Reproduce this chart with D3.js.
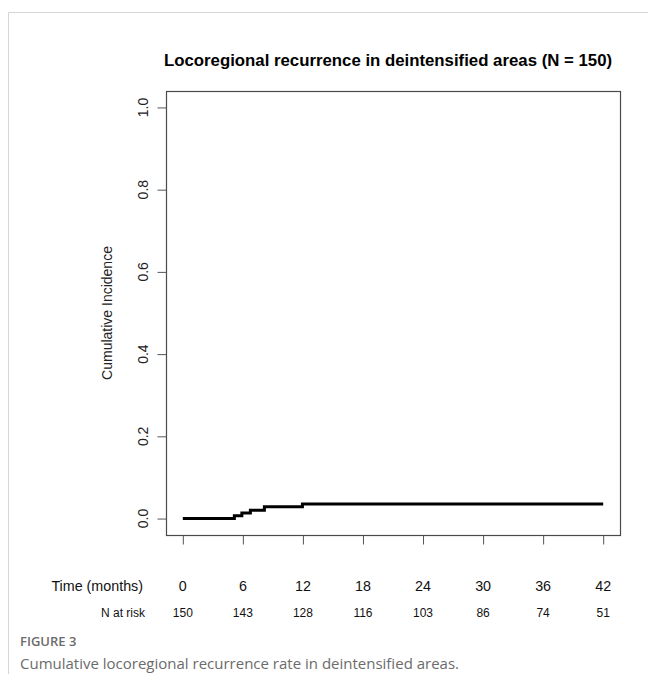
<!DOCTYPE html>
<html><head><meta charset="utf-8">
<script src="https://cdn.jsdelivr.net/npm/d3@7"></script>
<style>
body{margin:0;background:#fff}
text{font-family:"Liberation Sans",Arial,sans-serif}
</style>
</head><body>
<svg id="fig" width="648" height="674"></svg>
<script>
// Cumulative incidence of locoregional recurrence (step function)
const stepTimes = [0, 5.15, 5.9, 6.75, 8.15, 11.95, 42];
const cumInc    = [0, 0.0067, 0.0133, 0.0200, 0.029, 0.0355, 0.0355];
// Axis ticks and risk table
const timeTicks = [0, 6, 12, 18, 24, 30, 36, 42];
const nAtRisk   = [150, 143, 128, 116, 103, 86, 74, 51];
const yTicks    = [0, 0.2, 0.4, 0.6, 0.8, 1.0];

const titleText = "Locoregional recurrence in deintensified areas (N = 150)";
const yLabel = "Cumulative Incidence";
const figLabel = "FIGURE 3";
const captionText = "Cumulative locoregional recurrence rate in deintensified areas.";

const svg = d3.select("#fig");

// page frame
svg.append("path")
  .attr("d", "M8.5,674 V12.5 H648")
  .attr("fill", "none").attr("stroke", "#d6d6d6").attr("stroke-width", 1);

const box = {left: 166, right: 620, top: 91, bottom: 535};
// R-style 4% padding of the data range
const xPad = 0.04 * 42, yPad = 0.04 * 1;
const x = d3.scaleLinear().domain([-xPad, 42 + xPad]).range([box.left, box.right]);
const y = d3.scaleLinear().domain([-yPad, 1 + yPad]).range([box.bottom, box.top]);

// plot box
svg.append("rect")
  .attr("x", box.left + 0.5).attr("y", box.top + 0.5)
  .attr("width", box.right - box.left).attr("height", box.bottom - box.top)
  .attr("fill", "none").attr("stroke", "#4a4a4a").attr("stroke-width", 1.2);

// title
svg.append("text")
  .attr("x", 388).attr("y", 66)
  .attr("text-anchor", "middle")
  .style("font-weight", "bold").style("font-size", "16.8px").attr("fill", "#000")
  .text(titleText);

// y axis
const yAxis = svg.append("g")
  .attr("transform", `translate(${box.left + 0.5},0)`)
  .call(d3.axisLeft(y).tickValues(yTicks).tickSize(9).tickFormat(""));
yAxis.select(".domain").remove();
yAxis.selectAll("line").attr("stroke", "#555");

svg.append("g").selectAll("text").data(yTicks).join("text")
  .attr("transform", d => `translate(143,${y(d)}) rotate(-90)`)
  .attr("text-anchor", "middle").attr("dominant-baseline", "central")
  .style("font-size", "14px").attr("fill", "#222")
  .text(d => d.toFixed(1));

svg.append("text")
  .attr("transform", `translate(107,${(box.top + box.bottom) / 2}) rotate(-90)`)
  .attr("text-anchor", "middle").attr("dominant-baseline", "central")
  .style("font-size", "14px").attr("fill", "#222")
  .text(yLabel);

// x axis ticks
const xAxis = svg.append("g")
  .attr("transform", `translate(0,${box.bottom + 0.5})`)
  .call(d3.axisBottom(x).tickValues(timeTicks).tickSize(9).tickFormat(""));
xAxis.select(".domain").remove();
xAxis.selectAll("line").attr("stroke", "#555");

// time labels row
const rowTime = 586, rowRisk = 613;
svg.append("text")
  .attr("x", 143).attr("y", rowTime).attr("text-anchor", "end")
  .attr("dominant-baseline", "central").style("font-size", "14.3px").attr("fill", "#111")
  .text("Time (months)");
svg.append("g").selectAll("text").data(timeTicks).join("text")
  .attr("x", d => x(d)).attr("y", rowTime).attr("text-anchor", "middle")
  .attr("dominant-baseline", "central").style("font-size", "14.3px").attr("fill", "#111")
  .text(d => d);

// number at risk row
svg.append("text")
  .attr("x", 145).attr("y", rowRisk).attr("text-anchor", "end")
  .attr("dominant-baseline", "central").style("font-size", "12px").attr("fill", "#111")
  .text("N at risk");
svg.append("g").selectAll("text").data(nAtRisk).join("text")
  .attr("x", (d, i) => x(timeTicks[i])).attr("y", rowRisk).attr("text-anchor", "middle")
  .attr("dominant-baseline", "central").style("font-size", "12px").attr("fill", "#111")
  .text(d => d);

// cumulative incidence curve
const pts = stepTimes.map((t, i) => [t, cumInc[i]]);
svg.append("path")
  .datum(pts)
  .attr("d", d3.line().x(d => x(d[0])).y(d => y(d[1])).curve(d3.curveStepAfter))
  .attr("fill", "none").attr("stroke", "#000").attr("stroke-width", 3)
  .attr("stroke-linejoin", "miter");

// figure caption
svg.append("text")
  .attr("x", 20).attr("y", 646)
  .style("font-family", "'Open Sans',sans-serif").style("font-size", "13px")
  .style("font-weight", "600").attr("fill", "#6b6b6b")
  .text(figLabel);
svg.append("text")
  .attr("x", 20).attr("y", 669)
  .style("font-family", "'Open Sans',sans-serif").style("font-size", "15px")
  .attr("fill", "#6b6b6b")
  .text(captionText);
</script>
</body></html>
